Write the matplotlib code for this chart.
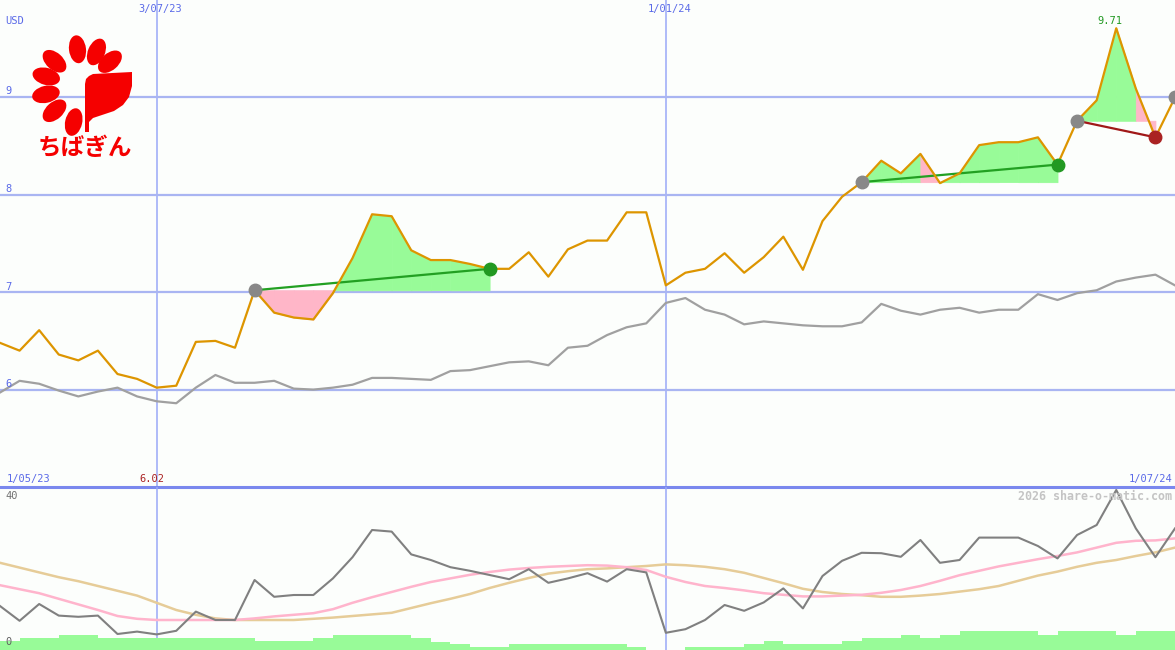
import numpy as np
import matplotlib
matplotlib.use("Agg")
import matplotlib.pyplot as plt
from matplotlib.patches import Ellipse, Polygon

W, H = 1175, 650

# weekly closes (USD), 61 weeks
price = [6.48, 6.40, 6.61, 6.36, 6.30, 6.40, 6.16, 6.11, 6.02, 6.04,
         6.49, 6.50, 6.43, 7.02, 6.79, 6.74, 6.72, 6.99, 7.35, 7.80,
         7.78, 7.43, 7.33, 7.33, 7.29, 7.24, 7.24, 7.41, 7.16, 7.44,
         7.53, 7.53, 7.82, 7.82, 7.07, 7.20, 7.24, 7.40, 7.20, 7.36,
         7.57, 7.23, 7.73, 7.98, 8.13, 8.35, 8.22, 8.42, 8.12, 8.22,
         8.51, 8.54, 8.54, 8.59, 8.31, 8.76, 8.97, 9.71, 9.09, 8.59, 9.00]
# comparison index (grey)
index_line = [5.97, 6.09, 6.06, 5.99, 5.93, 5.98, 6.02, 5.93, 5.88, 5.86,
              6.02, 6.15, 6.07, 6.07, 6.09, 6.01, 6.00, 6.02, 6.05, 6.12,
              6.12, 6.11, 6.10, 6.19, 6.20, 6.24, 6.28, 6.29, 6.25, 6.43,
              6.45, 6.56, 6.64, 6.68, 6.89, 6.94, 6.82, 6.77, 6.67, 6.70,
              6.68, 6.66, 6.65, 6.65, 6.69, 6.88, 6.81, 6.77, 6.82, 6.84,
              6.79, 6.82, 6.82, 6.98, 6.92, 6.99, 7.02, 7.11, 7.15, 7.18, 7.07]
# lower panel
osc = [11.0, 7.3, 11.5, 8.6, 8.3, 8.6, 4.0, 4.6, 3.9, 4.8,
       9.6, 7.5, 7.5, 17.5, 13.3, 13.75, 13.75, 17.9, 23.2, 30.0,
       29.6, 23.9, 22.5, 20.7, 19.8, 18.75, 17.7, 20.2, 16.8, 17.9,
       19.2, 17.1, 20.2, 19.4, 4.3, 5.2, 7.5, 11.25, 9.8, 11.9,
       15.4, 10.4, 18.5, 22.3, 24.3, 24.2, 23.3, 27.5, 21.8, 22.5,
       28.1, 28.1, 28.1, 26.0, 22.9, 28.75, 31.25, 40.0, 30.4, 23.2, 30.4]
osc_short = [16.2, 15.2, 14.2, 12.8, 11.4, 10.0, 8.5, 7.8, 7.5, 7.5,
             7.5, 7.5, 7.5, 7.9, 8.4, 8.8, 9.2, 10.2, 11.8, 13.2,
             14.5, 15.8, 17.0, 17.9, 18.8, 19.5, 20.1, 20.5, 20.8, 21.0,
             21.2, 21.1, 20.7, 20.0, 18.3, 17.0, 16.0, 15.5, 14.9, 14.2,
             13.8, 13.4, 13.4, 13.6, 13.8, 14.3, 15.0, 16.0, 17.3, 18.7,
             19.8, 20.9, 21.8, 22.7, 23.5, 24.4, 25.6, 26.8, 27.3, 27.4, 27.9]
osc_long = [21.8, 20.6, 19.4, 18.2, 17.2, 16.0, 14.8, 13.6, 11.8, 10.0,
            8.8, 7.9, 7.5, 7.5, 7.5, 7.5, 7.8, 8.1, 8.5, 8.9,
            9.3, 10.5, 11.7, 12.8, 14.0, 15.5, 16.8, 18.0, 19.1, 19.7,
            20.2, 20.4, 20.7, 21.0, 21.4, 21.2, 20.8, 20.2, 19.3, 18.0,
            16.7, 15.3, 14.5, 14.0, 13.7, 13.3, 13.3, 13.6, 14.0, 14.6,
            15.2, 16.0, 17.3, 18.6, 19.6, 20.8, 21.8, 22.5, 23.5, 24.4, 25.6]
volume = [2.25, 3.1, 3.1, 3.75, 3.75, 3.1, 3.1, 3.1, 3.1, 3.1,
          3.1, 3.1, 3.1, 2.25, 2.25, 2.25, 3.1, 3.75, 3.75, 3.75,
          3.75, 2.9, 2.1, 1.5, 0.7, 0.7, 1.5, 1.5, 1.5, 1.5,
          1.5, 1.5, 0.7, 0, 0, 0.7, 0.7, 0.7, 1.5, 2.25,
          1.5, 1.5, 1.5, 2.25, 3.1, 3.1, 3.75, 3.1, 3.75, 4.75,
          4.75, 4.75, 4.75, 3.75, 4.75, 4.75, 4.75, 3.75, 4.75, 4.75]
# trend segments (start week, end week)
segments = [(13, 25), (44, 54), (55, 59)]
open_start = 60
month_marks = [8, 34]
month_labels = ["3/07/23", "1/01/24"]
price_grid = [6, 7, 8, 9]

bg = "#fcfefc"
blue = "#5a6ae8"
grid_c = "#a9b5f2"
mono = "DejaVu Sans Mono"

x = np.arange(len(price))
price = np.array(price)

fig = plt.figure(figsize=(W / 100, H / 100), dpi=100)
fig.patch.set_facecolor(bg)
ax = fig.add_axes([0, 163 / H, 1, 487 / H])
ax2 = fig.add_axes([0, 0, 1, 163 / H])
for a in (ax, ax2):
    a.set_axis_off()
    a.set_xlim(0, 60)
    for m in month_marks:
        a.axvline(m, color="#9aa8f8", lw=1.1, zorder=1)
ax.set_ylim(5, 10)
ax2.set_ylim(0, 40.75)

for v in price_grid:
    ax.axhline(v, color=grid_c, lw=1.6, zorder=1)
ax.axhline(5, color="#7a88ee", lw=2.2, zorder=5, clip_on=False)

# trend fills and lines
for s, e in segments:
    base = price[s]
    for i in range(s, e):
        col = "#ffb6c8" if price[i + 1] < base else "#98fb98"
        ax.fill_between(x[i:i + 2], price[i:i + 2], base, facecolor=col,
                        edgecolor=col, lw=0.6, zorder=2)
    up = price[e] >= base
    lc = "#22a022" if up else "#a01818"
    ax.plot([s, e], [base, price[e]], color=lc, lw=1.6, zorder=4)
    ax.plot(e, price[e], "o", ms=9, color="#229922" if up else "#aa2222", zorder=6)

ax.plot(x, index_line, color="#a0a0a0", lw=1.6, zorder=3)
ax.plot(x, price, color="#dd9500", lw=1.6, zorder=4)
for s, e in segments:
    ax.plot(s, price[s], "o", ms=9, color="#888888", zorder=5)
ax.plot(open_start, price[open_start], "o", ms=9, color="#888888", zorder=5)

# lower panel
ax2.stairs(volume, x, fill=True, color="#98fb98", lw=0, zorder=1)
ax2.plot(x, osc_long, color="#e6cc98", lw=1.8, zorder=2)
ax2.plot(x, osc_short, color="#ffb4cc", lw=1.8, zorder=3)
ax2.plot(x, osc, color="#808080", lw=1.5, zorder=4)


def label(px, py, s, color=blue, ha="left", size=7.5, **kw):
    fig.text(px / W, 1 - py / H, s, color=color, ha=ha, va="center",
             fontsize=size, family=mono, **kw)


label(5, 21, "USD")
for v, py in zip(price_grid, [384, 286.5, 189, 91]):
    label(5, py, str(v))
for m, s in zip(month_marks, month_labels):
    label(m / 60 * W + 4, 9, s, ha="center")
label(7, 479, "1/05/23")
label(1172, 479, "1/07/24", ha="right")
label(152, 479, "%.2f" % price.min(), color="#aa2222", ha="center")
label(1110, 21, "%.2f" % price.max(), color="#229922", ha="center")
label(5, 496, "40", color="#707070")
label(5, 642, "0", color="#606060")
label(1172, 496, "2026 share-o-matic.com", color="#c4c4c4", ha="right",
      size=8.4, fontweight="bold")

# bank logo
red = "#f50000"
lg = fig.add_axes([30 / W, 1 - 165 / H, 110 / W, 135 / H])
lg.set_xlim(30, 140)
lg.set_ylim(165, 30)
lg.set_axis_off()
for th in [41, 67, 97, 138, 165, 193, 222, 257]:
    r = np.deg2rad(th)
    lg.add_patch(Ellipse((82 + 37 * np.cos(r), 86 - 37 * np.sin(r)), 28, 17,
                         angle=-th, color=red, lw=0))
leaf = [(85, 132), (85, 84), (86, 79), (89, 76), (93, 74), (132, 72), (132, 86),
        (129, 97), (123, 105), (114, 111), (102, 115), (93, 118), (89, 122), (89, 132)]
lg.add_patch(Polygon(leaf, closed=True, color=red, lw=0))
lg.text(85, 148, "ちばぎん", fontsize=17, fontweight="bold", color=red,
        family=["Noto Sans CJK JP", "DejaVu Sans"], ha="center", va="center")

fig.savefig("out.png", dpi=100, facecolor=bg)
